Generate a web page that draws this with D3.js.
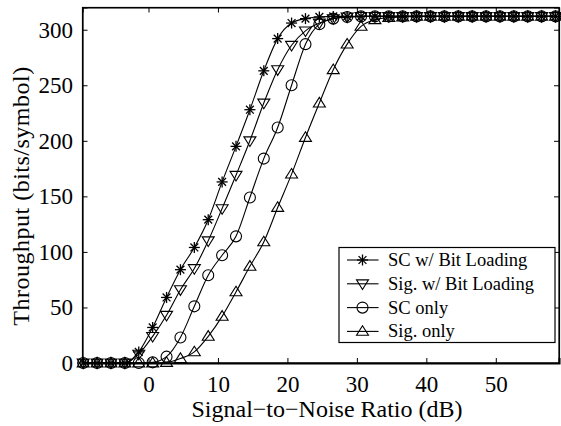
<!DOCTYPE html>
<html>
<head>
<meta charset="utf-8">
<script src="https://cdn.jsdelivr.net/npm/d3@7"></script>
<style>
  body { margin: 0; background: #fff; }
  text { font-family: "Liberation Serif", "Times New Roman", serif; fill: #000; }
</style>
</head>
<body>
<div id="chart"></div>
<script>
// SNR sample points (dB), every 2 dB
var snr = d3.range(35).map(function (k) { return +(-9.4 + 2 * k).toFixed(1); });

var plateau = 312;
function fill(vals) {
  var out = vals.slice();
  while (out.length < snr.length) out.push(plateau);
  return out;
}

var scBitLoading = fill([0, 0, 0, 0, 10, 32, 59, 84, 104, 129, 163, 195, 228, 263, 292, 306, 310, 311.5]);
var sigBitLoading = fill([0, 0, 0, 0, 8, 24, 43, 66, 85, 110, 139, 169, 200, 234, 264, 286, 299, 306, 310, 311.5]);
var scOnly = fill([0, 0, 0, 0, 0, 0.6, 5.7, 23, 51, 79, 97, 114, 149, 184, 212, 250, 287, 305, 310, 311.5]);
var sigOnly = fill([0, 0, 0, 0, 0, 0, 0.5, 4, 10, 24, 42, 64, 87, 109, 140, 170, 203, 234, 264, 287, 303, 309, 311, 311.5]);

var seriesNames = ["SC w/ Bit Loading", "Sig. w/ Bit Loading", "SC only", "Sig. only"];
var seriesMarkers = ["star", "tridown", "circle", "triup"];
var seriesValues = [scBitLoading, sigBitLoading, scOnly, sigOnly];

var xTicks = [0, 10, 20, 30, 40, 50];
var yTicks = [0, 50, 100, 150, 200, 250, 300];

var W = 561, H = 426;
var margin = {top: 7.5, right: 2, bottom: 63, left: 82.5};
var width = W - margin.left - margin.right,
    height = H - margin.top - margin.bottom;
var serif = "'Liberation Serif', 'Times New Roman', serif";

var svg = d3.select("#chart").append("svg")
    .attr("width", W)
    .attr("height", H)
  .append("g")
    .attr("transform", "translate(" + margin.left + "," + margin.top + ")");

var x = d3.scaleLinear().domain([-9.5, 59.1]).range([0, width]);
var y = d3.scaleLinear().domain([0, 320]).range([height, 0]);

// frame
svg.append("rect")
    .attr("width", width).attr("height", height)
    .attr("fill", "none").attr("stroke", "#000").attr("stroke-width", 1.2);

// axes with inward ticks
var xAxis = svg.append("g")
    .attr("transform", "translate(0," + height + ")")
    .call(d3.axisBottom(x).tickValues(xTicks).tickSize(-5).tickPadding(12.5))
    .attr("font-size", 23).attr("font-family", serif);
var yAxis = svg.append("g")
    .call(d3.axisLeft(y).tickValues(yTicks).tickSize(-5).tickPadding(9.5))
    .attr("font-size", 23).attr("font-family", serif);
svg.append("g")
    .call(d3.axisTop(x).tickValues(xTicks).tickSize(-5).tickFormat(""));
svg.append("g")
    .attr("transform", "translate(" + width + ",0)")
    .call(d3.axisRight(y).tickValues(yTicks).tickSize(-5).tickFormat(""));

svg.selectAll(".domain").attr("stroke", "#000").attr("stroke-width", 1.2);
xAxis.select(".domain").attr("stroke-width", 2);
svg.selectAll(".tick line").attr("stroke", "#000");

// labels
svg.append("text")
    .attr("x", 327 - margin.left).attr("y", 417 - margin.top)
    .attr("text-anchor", "middle")
    .style("font-family", serif)
    .style("font-size", "24px")
    .text("Signal\u2212to\u2212Noise Ratio (dB)");
svg.append("text")
    .attr("transform", "translate(" + (29 - margin.left) + "," + (196 - margin.top) + ") rotate(-90)")
    .attr("text-anchor", "middle")
    .style("font-family", serif)
    .style("font-size", "24px")
    .style("letter-spacing", "0.5px")
    .text("Throughput (bits/symbol)");

// marker drawing
function drawMarker(g, type) {
  var s = 6;
  if (type === "star") {
    var r = 5.5;
    [0, 45, 90, 135].forEach(function (a) {
      var rad = a * Math.PI / 180;
      g.append("line")
        .attr("x1", -r * Math.cos(rad)).attr("y1", -r * Math.sin(rad))
        .attr("x2", r * Math.cos(rad)).attr("y2", r * Math.sin(rad))
        .attr("stroke", "#000").attr("stroke-width", 1.3);
    });
  } else if (type === "circle") {
    g.append("circle").attr("r", 5.5)
      .attr("fill", "none").attr("stroke", "#000").attr("stroke-width", 1.1);
  } else if (type === "tridown") {
    g.append("path").attr("d", "M" + (-s) + "," + (-s * 0.65) + "L" + s + "," + (-s * 0.65) + "L0," + (s * 0.95) + "Z")
      .attr("fill", "none").attr("stroke", "#000").attr("stroke-width", 1.1);
  } else if (type === "triup") {
    g.append("path").attr("d", "M" + (-s) + "," + (s * 0.65) + "L" + s + "," + (s * 0.65) + "L0," + (-s * 0.95) + "Z")
      .attr("fill", "none").attr("stroke", "#000").attr("stroke-width", 1.1);
  }
}

var line = d3.line()
    .x(function (d) { return x(d[0]); })
    .y(function (d) { return y(d[1]); })
    .curve(d3.curveMonotoneX);

seriesValues.forEach(function (vals, i) {
  var pts = snr.map(function (s, j) { return [s, vals[j]]; });
  svg.append("path")
      .datum(pts)
      .attr("d", line)
      .attr("fill", "none")
      .attr("stroke", "#000")
      .attr("stroke-width", 1.1);
  pts.forEach(function (p) {
    var g = svg.append("g").attr("transform", "translate(" + x(p[0]) + "," + y(p[1]) + ")");
    drawMarker(g, seriesMarkers[i]);
  });
});

// legend
var lx = 339 - margin.left, ly = 247.5 - margin.top;
var legend = svg.append("g").attr("transform", "translate(" + lx + "," + ly + ")");
legend.append("rect")
    .attr("width", 216).attr("height", 95)
    .attr("fill", "#fff").attr("stroke", "#000").attr("stroke-width", 1.2);
seriesNames.forEach(function (name, i) {
  var yy = 12.5 + i * 23.8;
  legend.append("line")
      .attr("x1", 8).attr("x2", 39.5).attr("y1", yy).attr("y2", yy)
      .attr("stroke", "#000").attr("stroke-width", 1.1);
  drawMarker(legend.append("g").attr("transform", "translate(23.5," + yy + ")"), seriesMarkers[i]);
  legend.append("text")
      .attr("x", 49).attr("y", yy + 6)
      .style("font-family", serif)
      .style("font-size", "18.5px")
      .text(name);
});
</script>
</body>
</html>
